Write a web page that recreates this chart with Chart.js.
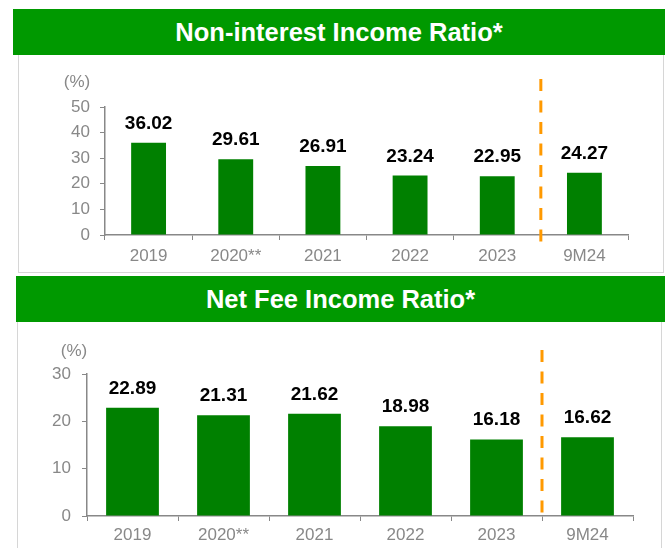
<!DOCTYPE html>
<html>
<head>
<meta charset="utf-8">
<script src="https://cdn.jsdelivr.net/npm/chart.js@4.4.1/dist/chart.umd.min.js"></script>
<style>
    body { margin: 0; background: #fff; font-family: "Liberation Sans", Arial, sans-serif; }
    .header {
        position: absolute;
        background: #009900;
        color: #fff;
        font-weight: bold;
        font-size: 25.5px;
        text-align: center;
        height: 46px;
        line-height: 46px;
    }
    .box {
        position: absolute;
        border: 1px solid #d6d6d6;
        border-top: none;
    }
    canvas { position: absolute; }
</style>
</head>
<body>

<div class="box" style="left:18px; top:55px; width:644px; height:217px;"></div>
<div class="header" style="left:13px; top:9px; width:652px;">Non-interest Income Ratio*</div>
<canvas id="nonInterestChart" width="643" height="216" style="left:19px; top:56px;"></canvas>

<div class="box" style="left:17px; top:322px; width:643px; height:240px;"></div>
<div class="header" style="left:16px; top:276px; width:649px;">Net Fee Income Ratio*</div>
<canvas id="netFeeChart" width="641" height="225" style="left:19px; top:323px;"></canvas>

<script>
// data
const categories = ['2019', '2020**', '2021', '2022', '2023', '9M24'];
const nonInterestRatio = [36.02, 29.61, 26.91, 23.24, 22.95, 24.27];
const netFeeRatio = [22.89, 21.31, 21.62, 18.98, 16.18, 16.62];
const nonInterestMax = 50;
const netFeeMax = 30;
const yStep = 10;

const tickColor = '#888888';
const barColor = '#008000';

// value labels, "(%)" unit and the orange dashed separator
const extrasPlugin = {
    id: 'extras',
    afterDatasetsDraw(chart, args, opts) {
        const ctx = chart.ctx;
        const meta = chart.getDatasetMeta(0);
        const data = chart.data.datasets[0].data;

        ctx.save();
        ctx.fillStyle = '#000';
        ctx.font = 'bold 19px "Liberation Sans", Arial, sans-serif';
        ctx.textAlign = 'center';
        ctx.textBaseline = 'alphabetic';
        meta.data.forEach(function (bar, i) {
            ctx.fillText(data[i].toFixed(2), bar.x, bar.y - 14);
        });

        ctx.fillStyle = tickColor;
        ctx.font = '17px "Liberation Sans", Arial, sans-serif';
        ctx.textBaseline = 'middle';
        ctx.fillText('(%)', opts.unitX, opts.unitY);

        // separator between 2023 and 9M24
        const x = chart.scales.x;
        const sepX = (x.getPixelForValue(4) + x.getPixelForValue(5)) / 2;
        ctx.strokeStyle = '#FF9900';
        ctx.lineWidth = 3;
        ctx.setLineDash([12, 9.5]);
        ctx.beginPath();
        ctx.moveTo(sepX, opts.lineTop);
        ctx.lineTo(sepX, opts.lineTop + 163);
        ctx.stroke();
        ctx.restore();
    }
};

function makeChart(id, values, max, barPct, yWidth, xHeight, padRight, xPad, yPad, extras) {
    const ctx = document.getElementById(id).getContext('2d');
    return new Chart(ctx, {
        type: 'bar',
        data: {
            labels: categories,
            datasets: [{
                data: values,
                backgroundColor: barColor,
                borderWidth: 0,
                categoryPercentage: 1,
                barPercentage: barPct
            }]
        },
        options: {
            responsive: false,
            animation: false,
            layout: { padding: { top: 51, right: padRight, left: 0, bottom: 0 } },
            plugins: {
                legend: { display: false },
                tooltip: { enabled: false },
                extras: extras
            },
            scales: {
                x: {
                    grid: { drawOnChartArea: false, drawTicks: true, tickLength: 5, color: tickColor },
                    border: { color: tickColor, width: 1.5 },
                    ticks: {
                        color: tickColor,
                        padding: xPad,
                        font: { size: 17, family: '"Liberation Sans", Arial, sans-serif' }
                    },
                    afterFit: function (scale) { scale.height = xHeight; }
                },
                y: {
                    min: 0,
                    max: max,
                    grid: { drawOnChartArea: false, drawTicks: true, tickLength: 5, color: tickColor },
                    border: { color: tickColor, width: 1.5 },
                    ticks: {
                        stepSize: yStep,
                        color: tickColor,
                        padding: yPad,
                        font: { size: 17, family: '"Liberation Sans", Arial, sans-serif' }
                    },
                    afterFit: function (scale) { scale.width = yWidth; }
                }
            }
        },
        plugins: [extrasPlugin]
    });
}

makeChart('nonInterestChart', nonInterestRatio, nonInterestMax, 0.4, 86, 37, 34, 6, 10,
    { unitX: 58, unitY: 26, lineTop: 23 });

makeChart('netFeeChart', netFeeRatio, netFeeMax, 0.58, 68, 32, 27, 4, 11,
    { unitX: 55, unitY: 28, lineTop: 27 });
</script>
</body>
</html>
